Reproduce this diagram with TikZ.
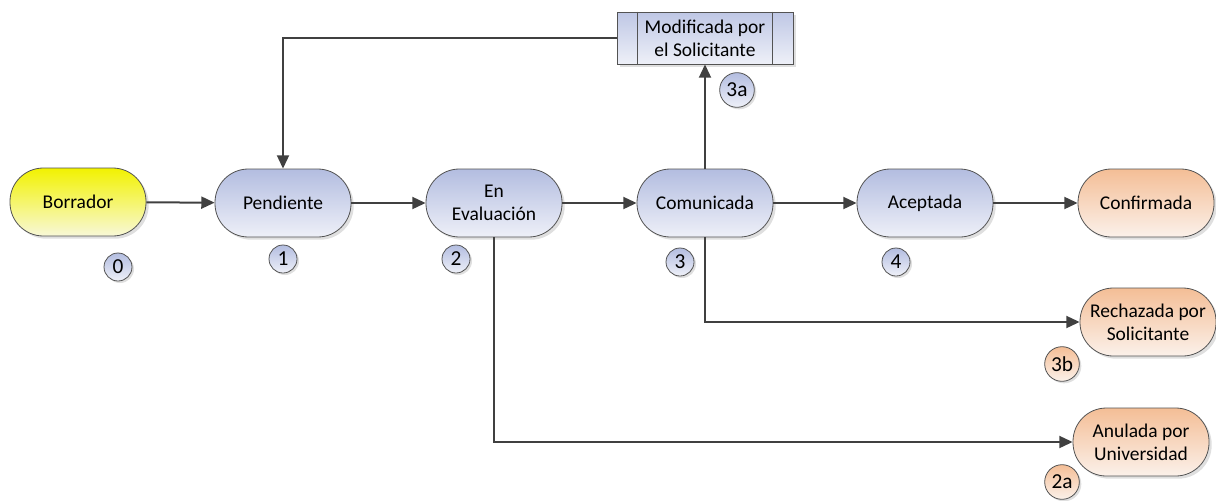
\documentclass[tikz,border=0pt]{standalone}
\usepackage{fontspec}
\setmainfont{Carlito}
\usetikzlibrary{arrows.meta,shadows}
\definecolor{linegray}{HTML}{404040}
\definecolor{bluetop}{HTML}{B3BDE0}
\definecolor{bluebot}{HTML}{EEF0F8}
\definecolor{orangetop}{HTML}{F4BE96}
\definecolor{orangebot}{HTML}{FBF1EA}
\definecolor{yellowtop}{HTML}{F2F200}
\definecolor{yellowbot}{HTML}{F8F8D8}
\begin{document}
\begin{tikzpicture}[x=0.75pt,y=-0.75pt,
  every node/.style={font=\fontsize{14.6}{17.5}\selectfont,align=center,text=black},
  state/.style={rectangle,rounded corners=25pt,minimum width=102pt,minimum height=51pt,
    draw=linegray!90,line width=0.6pt,top color=bluetop,bottom color=bluebot,
    drop shadow={opacity=0.25,shadow xshift=2pt,shadow yshift=-2pt}},
  start/.style={state,top color=yellowtop,bottom color=yellowbot},
  final/.style={state,top color=orangetop,bottom color=orangebot},
  subproc/.style={rectangle,minimum width=132pt,minimum height=39pt,inner sep=1pt,
    draw=linegray!90,line width=0.6pt,top color=bluetop!85,bottom color=bluebot,
    drop shadow={opacity=0.25,shadow xshift=2pt,shadow yshift=-2pt}},
  num/.style={circle,minimum size=21pt,inner sep=0pt,draw=linegray!90,line width=0.6pt,
    font=\fontsize{16}{18}\selectfont,top color=bluetop,bottom color=bluebot,
    drop shadow={opacity=0.25,shadow xshift=1.5pt,shadow yshift=-1.5pt}},
  bignum/.style={num,minimum size=26pt},
  bignumo/.style={bignum,top color=orangetop,bottom color=orangebot},
  arr/.style={draw=linegray,line width=1.5pt,-{Triangle[length=10pt,width=9pt]}}]
\useasboundingbox (0,0) rectangle (1216,500);

% states
\node[start] (borr) at (78,202) {Borrador};
\node[state] (pend) at (283,203) {Pendiente};
\node[state] (eval) at (494,203) {En\\Evaluación};
\node[state] (com) at (705,203) {Comunicada};
\node[state] (acep) at (925,203) {Aceptada};
\node[final] (conf) at (1146,203) {Confirmada};
\node[final] (rech) at (1148,322) {Rechazada por\\Solicitante};
\node[final] (anul) at (1141,442) {Anulada por\\Universidad};
\node[subproc] (mod) at (705,38) {Modificada por\\el Solicitante};
\draw[linegray!90,line width=0.6pt] ([xshift=15.75pt]mod.north west) -- ([xshift=15.75pt]mod.south west);
\draw[linegray!90,line width=0.6pt] ([xshift=-15.75pt]mod.north east) -- ([xshift=-15.75pt]mod.south east);

% numbers
\node[num] (c0) at (118,267) {0};
\node[num] (c1) at (283,259) {1};
\node[num] (c2) at (456,259) {2};
\node[num] (c3) at (680,262) {3};
\node[num] (c4) at (896,262) {4};
\node[bignum] (c3a) at (737,90) {3a};
\node[bignumo] (c3b) at (1062,364) {3b};
\node[bignumo] (c2a) at (1062,482) {2a};

% transitions
\draw[arr] (borr) -- (pend);
\draw[arr] (pend) -- (eval);
\draw[arr] (eval) -- (com);
\draw[arr] (com) -- (acep);
\draw[arr] (acep) -- (conf);
\draw[arr] (com.north) -- (mod.south);
\draw[arr] (mod.west) -| (pend.north);
\draw[arr] (com.south) |- (rech.west);
\draw[arr] (eval.south) |- (anul.west);
\end{tikzpicture}
\end{document}
